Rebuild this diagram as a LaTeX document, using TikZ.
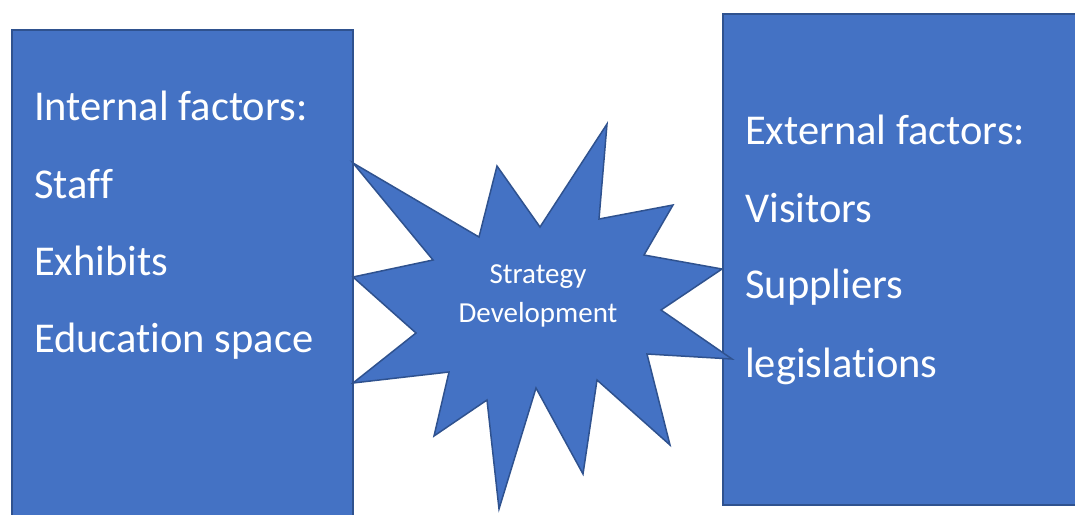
\documentclass[tikz,border=0pt]{standalone}
\usepackage{fontspec}
\setmainfont{Carlito}[Ligatures=NoCommon]
\definecolor{boxfill}{HTML}{4472C4}
\definecolor{boxline}{HTML}{2F528F}
\begin{document}
\begin{tikzpicture}[x=1pt,y=-1pt,
  panel/.style={fill=boxfill,draw=boxline,line width=1.5pt,line join=miter},
  item/.style={anchor=base west,text=white,inner sep=0pt,font=\fontsize{42.5}{50}\selectfont},
  burst/.style={anchor=base,text=white,inner sep=0pt,font=\fontsize{29}{36}\selectfont}]
\useasboundingbox (0,0) rectangle (1075,514);
\clip (0,0) rectangle (1075,514);

% left panel: internal factors
\node (internal) [panel,anchor=north west,minimum width=341pt,minimum height=500pt,inner sep=0pt] at (11,29) {};
\node (i1) [item] at (34,120) {Internal factors:};
\node (i2) [item] at (34,198) {Staff};
\node (i3) [item] at (34,275) {Exhibits};
\node (i4) [item] at (34,352) {Education space};

% right panel: external factors
\node (external) [panel,anchor=north west,minimum width=370pt,minimum height=491pt,inner sep=0pt] at (722,13) {};
\node (e1) [item] at (745,144) {External factors:};
\node (e2) [item] at (745,222) {Visitors};
\node (e3) [item] at (745,298) {Suppliers};
\node (e4) [item] at (745,377) {legislations};

% central starburst
\draw[panel] (353,163) -- (479,237) -- (497,166) -- (540,227) -- (607,124)
  -- (599,219) -- (673,205) -- (644,255) -- (722,269) -- (661,310)
  -- (732,359) -- (647,354) -- (670,445) -- (597,380) -- (583,474)
  -- (536,388) -- (499,509) -- (487,400) -- (434,436) -- (449,372)
  -- (353,383) -- (416,333) -- (353,277) -- (433,260) -- cycle;
\node (s1) [burst] at (538,283) {Strategy};
\node (s2) [burst] at (538,322) {Development};
\end{tikzpicture}
\end{document}
